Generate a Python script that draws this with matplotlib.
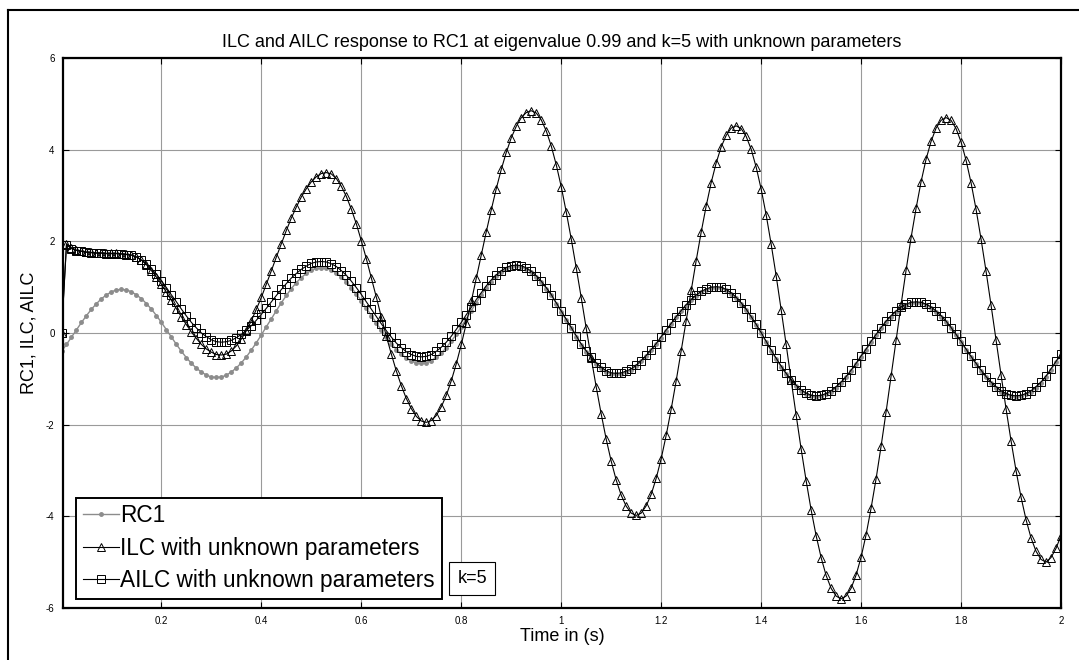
import numpy as np
import matplotlib
matplotlib.use("Agg")
import matplotlib.pyplot as plt
from matplotlib.lines import Line2D

plt.rcParams['font.family'] = ['Liberation Sans', 'DejaVu Sans']
plt.rcParams['axes.unicode_minus'] = False

# tiempo de muestreo (s)
tiempo = np.round(np.linspace(0, 2, 201), 2)

# senal de referencia RC1
rc1 = [-0.40, -0.25, -0.09, 0.07, 0.23, 0.38, 0.52, 0.64, 0.75, 0.83, 0.90, 0.94, 0.95,
       0.94, 0.90, 0.83, 0.75, 0.64, 0.52, 0.38, 0.23, 0.07, -0.09, -0.25, -0.40, -0.54, -0.66, -0.77, -0.85, -0.92, -0.96, -0.97,
       -0.96, -0.92, -0.85, -0.76, -0.65, -0.52, -0.37, -0.21, -0.04, 0.14, 0.31, 0.49, 0.66, 0.82, 0.97, 1.10, 1.21, 1.30, 1.37, 1.41, 1.42,
       1.41, 1.37, 1.31, 1.22, 1.12, 0.99, 0.85, 0.70, 0.54, 0.38, 0.22, 0.06, -0.09, -0.23, -0.36, -0.46, -0.55, -0.61, -0.65, -0.66,
       -0.65, -0.60, -0.53, -0.44, -0.32, -0.18, -0.03, 0.14, 0.31, 0.49, 0.66, 0.83, 0.98, 1.12, 1.24, 1.33, 1.40, 1.45, 1.46,
       1.45, 1.40, 1.33, 1.23, 1.11, 0.97, 0.82, 0.64, 0.46, 0.28, 0.10, -0.08, -0.26, -0.41, -0.55, -0.67, -0.77, -0.84, -0.89, -0.90,
       -0.89, -0.85, -0.80, -0.72, -0.62, -0.51, -0.38, -0.25, -0.10, 0.05, 0.19, 0.34, 0.47, 0.60, 0.71, 0.81, 0.89, 0.94, 0.98, 0.99,
       0.98, 0.93, 0.86, 0.76, 0.64, 0.50, 0.34, 0.17, -0.01, -0.20, -0.39, -0.57, -0.74, -0.90, -1.04, -1.16, -1.26, -1.33, -1.38, -1.39,
       -1.38, -1.34, -1.28, -1.19, -1.09, -0.97, -0.83, -0.68, -0.52, -0.37, -0.20, -0.05, 0.10, 0.24, 0.36, 0.46, 0.55, 0.61, 0.65, 0.66,
       0.65, 0.61, 0.55, 0.46, 0.36, 0.24, 0.10, -0.05, -0.20, -0.37, -0.53, -0.68, -0.83, -0.97, -1.09, -1.19, -1.28, -1.34, -1.38, -1.39,
       -1.38, -1.34, -1.28, -1.19, -1.09, -0.96, -0.80, -0.64, -0.47]

# ILC con parametros desconocidos
ilc = [0.00, 1.95, 1.86, 1.81, 1.79, 1.77, 1.76, 1.75, 1.75, 1.74, 1.74, 1.74, 1.73, 1.72,
       1.70, 1.66, 1.59, 1.49, 1.36, 1.22, 1.06, 0.89, 0.71, 0.53, 0.35, 0.18, 0.02, -0.12, -0.25, -0.35, -0.42, -0.47, -0.48,
       -0.46, -0.39, -0.28, -0.13, 0.05, 0.27, 0.52, 0.78, 1.07, 1.36, 1.66, 1.95, 2.24, 2.51, 2.75, 2.97, 3.15, 3.30, 3.41, 3.48, 3.50,
       3.47, 3.37, 3.20, 2.98, 2.70, 2.38, 2.01, 1.62, 1.20, 0.78, 0.35, -0.07, -0.46, -0.83, -1.15, -1.43, -1.65, -1.82, -1.92, -1.95,
       -1.91, -1.80, -1.61, -1.36, -1.04, -0.67, -0.25, 0.21, 0.69, 1.20, 1.70, 2.21, 2.69, 3.15, 3.57, 3.94, 4.26, 4.51, 4.70, 4.81, 4.85,
       4.80, 4.65, 4.41, 4.08, 3.67, 3.19, 2.64, 2.05, 1.42, 0.77, 0.10, -0.55, -1.18, -1.77, -2.32, -2.80, -3.21, -3.54, -3.78, -3.93, -3.98,
       -3.93, -3.77, -3.52, -3.17, -2.74, -2.23, -1.66, -1.04, -0.39, 0.27, 0.93, 1.58, 2.20, 2.77, 3.28, 3.71, 4.06, 4.31, 4.47, 4.52,
       4.46, 4.29, 4.01, 3.62, 3.14, 2.58, 1.94, 1.25, 0.51, -0.25, -1.03, -1.79, -2.53, -3.22, -3.86, -4.42, -4.90, -5.29, -5.57, -5.74, -5.80,
       -5.74, -5.57, -5.28, -4.89, -4.40, -3.82, -3.18, -2.47, -1.72, -0.94, -0.16, 0.62, 1.37, 2.08, 2.72, 3.30, 3.79, 4.18, 4.47, 4.64, 4.70,
       4.64, 4.46, 4.17, 3.77, 3.28, 2.70, 2.05, 1.35, 0.61, -0.15, -0.91, -1.65, -2.35, -3.00, -3.58, -4.07, -4.47, -4.76, -4.94, -5.00,
       -4.90, -4.70, -4.42]

# AILC con parametros desconocidos
ailc = [0.00, 1.92, 1.84, 1.80, 1.78, 1.76, 1.75, 1.74, 1.74, 1.73, 1.73, 1.73, 1.72, 1.71,
        1.70, 1.66, 1.59, 1.51, 1.40, 1.28, 1.14, 0.99, 0.83, 0.68, 0.52, 0.37, 0.23, 0.11, 0.00, -0.08, -0.15, -0.19, -0.20,
        -0.19, -0.16, -0.10, -0.03, 0.06, 0.16, 0.28, 0.41, 0.54, 0.68, 0.82, 0.95, 1.08, 1.20, 1.30, 1.39, 1.46, 1.52, 1.55, 1.56,
        1.55, 1.51, 1.45, 1.36, 1.26, 1.13, 0.99, 0.84, 0.68, 0.52, 0.36, 0.20, 0.05, -0.09, -0.22, -0.32, -0.41, -0.47, -0.51, -0.52,
        -0.51, -0.47, -0.40, -0.31, -0.20, -0.07, 0.08, 0.23, 0.40, 0.56, 0.73, 0.88, 1.03, 1.16, 1.27, 1.36, 1.43, 1.47, 1.48,
        1.47, 1.42, 1.35, 1.25, 1.13, 0.99, 0.84, 0.66, 0.48, 0.30, 0.12, -0.06, -0.24, -0.39, -0.53, -0.65, -0.75, -0.82, -0.87, -0.88,
        -0.87, -0.83, -0.78, -0.70, -0.60, -0.49, -0.36, -0.23, -0.08, 0.07, 0.21, 0.36, 0.49, 0.62, 0.73, 0.83, 0.91, 0.96, 1.00, 1.01,
        1.00, 0.95, 0.88, 0.78, 0.66, 0.52, 0.36, 0.19, 0.01, -0.18, -0.37, -0.55, -0.72, -0.88, -1.02, -1.14, -1.24, -1.31, -1.36, -1.37,
        -1.36, -1.32, -1.26, -1.17, -1.07, -0.95, -0.81, -0.66, -0.50, -0.35, -0.18, -0.03, 0.12, 0.26, 0.38, 0.48, 0.57, 0.63, 0.67, 0.68,
        0.67, 0.63, 0.57, 0.48, 0.38, 0.26, 0.12, -0.03, -0.18, -0.35, -0.51, -0.66, -0.81, -0.95, -1.07, -1.17, -1.26, -1.32, -1.36, -1.37,
        -1.36, -1.32, -1.26, -1.17, -1.07, -0.94, -0.78, -0.62, -0.45]

xticks = [0.2, 0.4, 0.6, 0.8, 1.0, 1.2, 1.4, 1.6, 1.8, 2.0]
xtick_labels = ["0.2", "0.4", "0.6", "0.8", "1", "1.2", "1.4", "1.6", "1.8", "2"]
yticks = [-6, -4, -2, 0, 2, 4, 6]

###--- Grafico ---###
fig = plt.figure(figsize=(10.79, 6.60), dpi=100)
ax = fig.add_axes([63 / 1079, 1 - 608 / 660, 998 / 1079, 550 / 660])

ax.plot(tiempo, rc1, color="#8c8c8c", lw=1.0, marker=".", ms=5, label="RC1")
ax.plot(tiempo, ilc, color="black", lw=0.8, marker="^", ms=6, mfc="none", mec="black", mew=0.7,
        label="ILC with unknown parameters")
ax.plot(tiempo, ailc, color="black", lw=0.8, marker="s", ms=5.5, mfc="none", mec="black", mew=0.7,
        label="AILC with unknown parameters")

ax.set_xlim(0.003, 2)
ax.set_ylim(-6, 6)
ax.set_xticks(xticks)
ax.set_xticklabels(xtick_labels)
ax.set_yticks(yticks)
ax.tick_params(direction="in", length=4, width=0.8, labelsize=7, top=True, right=True, pad=6)
ax.grid(True, color="#9a9a9a", lw=0.8)
for lado in ax.spines.values():
    lado.set_linewidth(1.6)

ax.set_title("ILC and AILC response to RC1 at eigenvalue 0.99 and k=5 with unknown parameters",
             fontsize=13, pad=8)
ax.set_xlabel("Time in (s)", fontsize=13, labelpad=1)
ax.set_ylabel("RC1, ILC, AILC", fontsize=13, labelpad=6)

leg = ax.legend(loc="lower left", bbox_to_anchor=(0.013, 0.016), borderaxespad=0, fontsize=16.3,
                fancybox=False, framealpha=1, edgecolor="black", handlelength=1.6, handletextpad=0.05,
                labelspacing=0.42, borderpad=0.3)
leg.get_frame().set_linewidth(1.4)

ax.text(0.41, 0.053, "k=5", transform=ax.transAxes, fontsize=13, ha="center", va="center",
        bbox=dict(boxstyle="square,pad=0.45", fc="white", ec="black", lw=0.8))

# marco exterior de la figura
fig.add_artist(Line2D([8 / 1079, 8 / 1079], [0, 1 - 10 / 660], color="black", lw=1.5, transform=fig.transFigure))
fig.add_artist(Line2D([8 / 1079, 1], [1 - 10 / 660, 1 - 10 / 660], color="black", lw=1.5, transform=fig.transFigure))

fig.savefig("out.png", dpi=100)
